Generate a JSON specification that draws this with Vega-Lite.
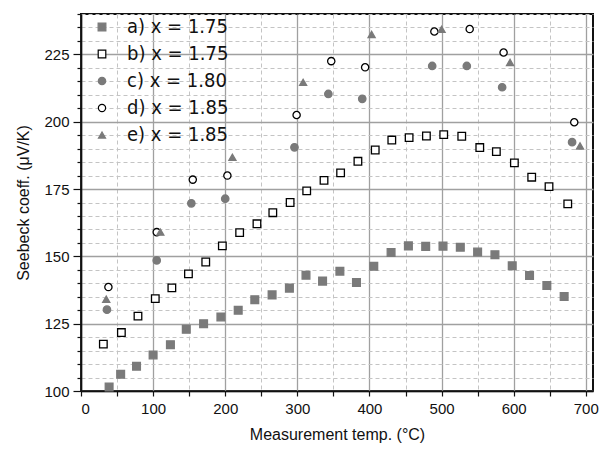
{
  "$schema": "https://vega.github.io/schema/vega-lite/v6.json",
  "autosize": {"type": "none"},
  "width": 512,
  "height": 377,
  "padding": {"left": 81, "top": 14, "right": 9, "bottom": 62},
  "background": "white",
  "config": {
    "view": {"stroke": "#111", "strokeWidth": 2},
    "font": "Liberation Sans",
    "legend": {
      "orient": "none", "legendX": 11, "legendY": 3,
      "labelFontSize": 20, "labelFont": "DejaVu Sans Condensed, Liberation Sans", "labelColor": "#111", "labelOffset": 15, "labelLimit": 300,
      "rowPadding": 7, "padding": 0, "symbolStrokeWidth": 1.2
    }
  },
  "data": {
    "values": [
      {"series": "a) x = 1.75", "T": 39, "S": 101.5},
      {"series": "a) x = 1.75", "T": 55, "S": 106.2},
      {"series": "a) x = 1.75", "T": 77, "S": 109.2},
      {"series": "a) x = 1.75", "T": 100, "S": 113.4},
      {"series": "a) x = 1.75", "T": 124, "S": 117.2},
      {"series": "a) x = 1.75", "T": 146, "S": 122.9},
      {"series": "a) x = 1.75", "T": 170, "S": 125.0},
      {"series": "a) x = 1.75", "T": 194, "S": 127.5},
      {"series": "a) x = 1.75", "T": 218, "S": 130.0},
      {"series": "a) x = 1.75", "T": 241, "S": 133.9},
      {"series": "a) x = 1.75", "T": 265, "S": 135.7},
      {"series": "a) x = 1.75", "T": 289, "S": 138.2},
      {"series": "a) x = 1.75", "T": 312, "S": 143.0},
      {"series": "a) x = 1.75", "T": 335, "S": 140.8},
      {"series": "a) x = 1.75", "T": 359, "S": 144.5},
      {"series": "a) x = 1.75", "T": 382, "S": 140.3},
      {"series": "a) x = 1.75", "T": 406, "S": 146.3},
      {"series": "a) x = 1.75", "T": 430, "S": 151.4},
      {"series": "a) x = 1.75", "T": 454, "S": 153.9},
      {"series": "a) x = 1.75", "T": 478, "S": 153.7},
      {"series": "a) x = 1.75", "T": 502, "S": 153.8},
      {"series": "a) x = 1.75", "T": 526, "S": 153.4},
      {"series": "a) x = 1.75", "T": 550, "S": 151.6},
      {"series": "a) x = 1.75", "T": 574, "S": 150.6},
      {"series": "a) x = 1.75", "T": 598, "S": 146.5},
      {"series": "a) x = 1.75", "T": 622, "S": 142.9},
      {"series": "a) x = 1.75", "T": 646, "S": 139.2},
      {"series": "a) x = 1.75", "T": 670, "S": 135.1},
      {"series": "b) x = 1.75", "T": 31, "S": 117.4},
      {"series": "b) x = 1.75", "T": 56, "S": 121.7},
      {"series": "b) x = 1.75", "T": 79, "S": 127.8},
      {"series": "b) x = 1.75", "T": 103, "S": 134.3},
      {"series": "b) x = 1.75", "T": 126, "S": 138.3},
      {"series": "b) x = 1.75", "T": 149, "S": 143.5},
      {"series": "b) x = 1.75", "T": 173, "S": 147.9},
      {"series": "b) x = 1.75", "T": 196, "S": 153.9},
      {"series": "b) x = 1.75", "T": 220, "S": 158.8},
      {"series": "b) x = 1.75", "T": 244, "S": 162.1},
      {"series": "b) x = 1.75", "T": 266, "S": 166.2},
      {"series": "b) x = 1.75", "T": 290, "S": 170.0},
      {"series": "b) x = 1.75", "T": 313, "S": 174.3},
      {"series": "b) x = 1.75", "T": 337, "S": 178.2},
      {"series": "b) x = 1.75", "T": 360, "S": 181.0},
      {"series": "b) x = 1.75", "T": 384, "S": 185.3},
      {"series": "b) x = 1.75", "T": 408, "S": 189.5},
      {"series": "b) x = 1.75", "T": 431, "S": 193.2},
      {"series": "b) x = 1.75", "T": 455, "S": 194.1},
      {"series": "b) x = 1.75", "T": 479, "S": 194.7},
      {"series": "b) x = 1.75", "T": 503, "S": 195.2},
      {"series": "b) x = 1.75", "T": 528, "S": 194.6},
      {"series": "b) x = 1.75", "T": 553, "S": 190.4},
      {"series": "b) x = 1.75", "T": 576, "S": 188.9},
      {"series": "b) x = 1.75", "T": 601, "S": 184.7},
      {"series": "b) x = 1.75", "T": 625, "S": 179.4},
      {"series": "b) x = 1.75", "T": 649, "S": 175.9},
      {"series": "b) x = 1.75", "T": 675, "S": 169.5},
      {"series": "c)  x = 1.80", "T": 36, "S": 130.2},
      {"series": "c)  x = 1.80", "T": 105, "S": 148.5},
      {"series": "c)  x = 1.80", "T": 153, "S": 169.7},
      {"series": "c)  x = 1.80", "T": 200, "S": 171.4},
      {"series": "c)  x = 1.80", "T": 296, "S": 190.5},
      {"series": "c)  x = 1.80", "T": 343, "S": 210.3},
      {"series": "c)  x = 1.80", "T": 390, "S": 208.5},
      {"series": "c)  x = 1.80", "T": 487, "S": 220.7},
      {"series": "c)  x = 1.80", "T": 535, "S": 220.7},
      {"series": "c)  x = 1.80", "T": 584, "S": 212.8},
      {"series": "c)  x = 1.80", "T": 681, "S": 192.4},
      {"series": "d) x = 1.85", "T": 38, "S": 138.6},
      {"series": "d) x = 1.85", "T": 105, "S": 159.0},
      {"series": "d) x = 1.85", "T": 155, "S": 178.5},
      {"series": "d) x = 1.85", "T": 203, "S": 180.0},
      {"series": "d) x = 1.85", "T": 299, "S": 202.5},
      {"series": "d) x = 1.85", "T": 347, "S": 222.5},
      {"series": "d) x = 1.85", "T": 394, "S": 220.2},
      {"series": "d) x = 1.85", "T": 490, "S": 233.5},
      {"series": "d) x = 1.85", "T": 539, "S": 234.4},
      {"series": "d) x = 1.85", "T": 586, "S": 225.7},
      {"series": "d) x = 1.85", "T": 684, "S": 199.8},
      {"series": "e) x = 1.85", "T": 35, "S": 134.1},
      {"series": "e) x = 1.85", "T": 110, "S": 159.0},
      {"series": "e) x = 1.85", "T": 210, "S": 186.8},
      {"series": "e) x = 1.85", "T": 308, "S": 214.6},
      {"series": "e) x = 1.85", "T": 403, "S": 232.4},
      {"series": "e) x = 1.85", "T": 500, "S": 234.3},
      {"series": "e) x = 1.85", "T": 595, "S": 222.0},
      {"series": "e) x = 1.85", "T": 692, "S": 191.0}
    ]
  },
  "layer": [
    {
      "mark": {"type": "point", "opacity": 0},
      "encoding": {
        "x": {
          "field": "T", "type": "quantitative",
          "scale": {"domain": [0, 710], "nice": false, "zero": false},
          "axis": {
            "orient": "bottom", "title": null, "labels": false, "domain": false,
            "values": [50, 150, 250, 350, 450, 550, 650],
            "grid": true, "gridColor": "#c4c4c4", "gridDash": [4, 3], "gridWidth": 1,
            "ticks": true, "tickSize": 5, "tickColor": "#111", "tickWidth": 1.2
          }
        },
        "y": {
          "field": "S", "type": "quantitative",
          "scale": {"domain": [100, 240], "nice": false, "zero": false},
          "axis": {
            "orient": "left", "title": null, "labels": false, "domain": false,
            "values": [105, 110, 115, 120, 130, 135, 140, 145, 155, 160, 165, 170, 180, 185, 190, 195, 205, 210, 215, 220, 230, 235, 240],
            "grid": true, "gridColor": "#c4c4c4", "gridDash": [4, 3], "gridWidth": 1,
            "ticks": true, "tickSize": 4, "tickColor": "#111", "tickWidth": 1.2
          }
        }
      }
    },
    {
      "mark": {"type": "point", "filled": true, "opacity": 1, "strokeWidth": 1.3},
      "encoding": {
        "x": {
          "field": "T", "type": "quantitative",
          "scale": {"domain": [0, 710], "nice": false, "zero": false},
          "axis": {
            "orient": "bottom", "title": "Measurement temp. (°C)",
            "values": [0, 100, 200, 300, 400, 500, 600, 700],
            "grid": true, "gridColor": "#a0a0a0", "gridWidth": 1.3,
            "domain": true, "domainColor": "#111", "domainWidth": 1.6,
            "ticks": true, "tickSize": 5, "tickColor": "#111", "tickWidth": 1.2,
            "labelFontSize": 15, "labelColor": "#111", "labelPadding": 5,
            "titleFontSize": 16, "titleFontWeight": "normal", "titleColor": "#111", "titlePadding": 10
          }
        },
        "y": {
          "field": "S", "type": "quantitative",
          "scale": {"domain": [100, 240], "nice": false, "zero": false},
          "axis": {
            "orient": "left", "title": "Seebeck coeff. (μV/K)",
            "values": [100, 125, 150, 175, 200, 225],
            "grid": true, "gridColor": "#a0a0a0", "gridWidth": 1.3,
            "domain": true, "domainColor": "#111", "domainWidth": 1.6,
            "ticks": true, "tickSize": 8, "tickColor": "#111", "tickWidth": 1.2,
            "labelFontSize": 15, "labelColor": "#111", "labelPadding": 4,
            "titleFontSize": 16, "titleFontWeight": "normal", "titleColor": "#111", "titlePadding": 12
          }
        },
        "shape": {
          "field": "series", "type": "nominal", "title": null,
          "scale": {
            "domain": ["a) x = 1.75", "b) x = 1.75", "c)  x = 1.80", "d) x = 1.85", "e) x = 1.85"],
            "range": ["square", "square", "circle", "circle", "triangle-up"]
          }
        },
        "fill": {
          "field": "series", "type": "nominal", "title": null,
          "scale": {
            "domain": ["a) x = 1.75", "b) x = 1.75", "c)  x = 1.80", "d) x = 1.85", "e) x = 1.85"],
            "range": ["#7a7a7a", "#ffffff", "#7a7a7a", "#ffffff", "#7a7a7a"]
          }
        },
        "stroke": {
          "field": "series", "type": "nominal", "title": null,
          "scale": {
            "domain": ["a) x = 1.75", "b) x = 1.75", "c)  x = 1.80", "d) x = 1.85", "e) x = 1.85"],
            "range": ["#7a7a7a", "#000000", "#7a7a7a", "#000000", "#7a7a7a"]
          }
        },
        "size": {
          "field": "series", "type": "nominal", "title": null,
          "scale": {
            "domain": ["a) x = 1.75", "b) x = 1.75", "c)  x = 1.80", "d) x = 1.85", "e) x = 1.85"],
            "range": [60, 50, 70, 64, 160]
          }
        }
      }
    }
  ],
  "resolve": {"axis": {"x": "independent", "y": "independent"}}
}
